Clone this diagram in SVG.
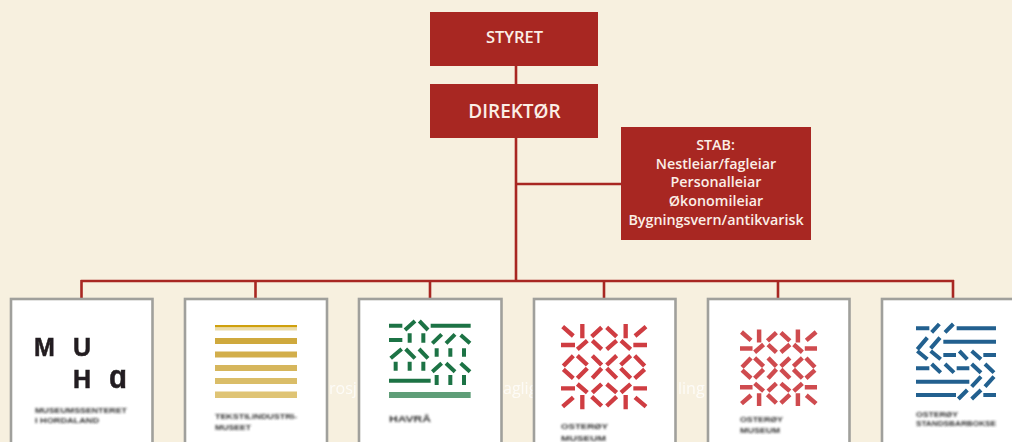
<svg xmlns="http://www.w3.org/2000/svg" width="1012" height="442" viewBox="0 0 1012 442">
<style>
.box{fill:#a82722}
.lbl{fill:#fbeee6;font-family:"Open Sans","Noto Sans",sans-serif;font-weight:600;text-anchor:middle}
.card{fill:#fff;stroke:#a0a09c;stroke-width:2.600}
.conn{fill:none;stroke:#a82722;stroke-width:2.600}
.ghost{fill:#fff;opacity:.75;font-family:"Open Sans",sans-serif;font-size:16px}
.cap{font-family:"Liberation Sans",sans-serif;font-weight:700;font-size:6.500px;fill:#333}
.big{font-family:"Liberation Sans",sans-serif;font-weight:700;font-size:25px;fill:#231f20}
.z{fill:none;stroke-linecap:butt}
</style>
<defs>
<filter id="soft" x="-10%" y="-10%" width="120%" height="120%"><feGaussianBlur stdDeviation="0.7"/></filter>
<filter id="softcap" x="-10%" y="-40%" width="120%" height="180%"><feGaussianBlur stdDeviation="0.8"/></filter>
<filter id="softz" x="-10%" y="-10%" width="120%" height="120%"><feGaussianBlur stdDeviation="2.200"/></filter>
<path id="knot" d="M668 110L700 138M727 102V145M755 140L785 112M800 112L830 140M857 102V145M885 138L918 110M663 165H705M712 178L742 152M757 152L785 178M800 178L830 152M843 152L872 178M880 165H921M670 228L700 197M712 197L742 225M670 238L700 265M712 265L742 235M757 197L785 225M830 197L800 225M757 265L785 235M830 265L800 235M914 228L884 197M872 197L842 225M914 238L884 265M872 265L842 235M663 295H705M712 282L742 308M757 308L785 282M800 282L830 308M843 308L872 282M880 295H921M668 350L700 322M727 358V315M755 320L785 348M800 348L830 320M857 358V315M885 322L918 350"/>
</defs>
<rect width="1012" height="442" fill="#f7f0df"/>
<text class="ghost" x="329" y="394">rosj</text>
<text class="ghost" x="503" y="394">aglig</text>
<text class="ghost" x="678" y="394">ling</text>
<g id="connectors">
<path class="conn" d="M516 66V84M516 138V281M516 184H621M80.700 281H954M81.500 280V298M255.500 280V298M430 280V298M604 280V298M778 280V298M953 280V298"/>
</g>
<g id="styret"><rect class="box" x="430" y="12" width="168" height="54"/><text class="lbl" x="514.500" y="43" font-size="16.500">STYRET</text></g>
<g id="direktor"><rect class="box" x="430" y="84" width="168" height="54"/><text class="lbl" x="514.500" y="118" font-size="19">DIREKTØR</text></g>
<g id="stab"><rect class="box" x="621" y="127" width="190" height="113"/>
<g class="lbl" font-size="14.300"><text x="715.500" y="150">STAB:</text><text x="716" y="169">Nestleiar/fagleiar</text><text x="716" y="187">Personalleiar</text><text x="716" y="206">Økonomileiar</text><text x="716" y="225">Bygningsvern/antikvarisk</text></g></g>
<g id="muha"><rect class="card" x="11" y="299" width="141.500" height="160"/>
<g filter="url(#soft)"><text class="big" x="34" y="356" stroke="#231f20" stroke-width=".5">M</text><text class="big" x="73" y="356" stroke="#231f20" stroke-width=".5">U</text><text class="big" x="73" y="388" stroke="#231f20" stroke-width=".5">H</text><text class="big" x="109" y="388" style="font-size:34px" textLength="18" lengthAdjust="spacingAndGlyphs" stroke="#231f20" stroke-width=".5">ɑ</text></g>
<g filter="url(#softcap)"><text class="cap" x="35" y="413" textLength="92" lengthAdjust="spacingAndGlyphs">MUSEUMSSENTERET</text><text class="cap" x="35" y="423" textLength="64" lengthAdjust="spacingAndGlyphs">I HORDALAND</text></g></g>
<g id="tekstil"><rect class="card" x="185" y="299" width="142" height="160"/>
<g filter="url(#soft)"><rect x="215" y="325" width="82" height="2.500" fill="#cfa00c"/><rect x="215" y="327.500" width="82" height="3" fill="#ecdca8"/><rect x="215" y="338" width="82" height="6" fill="#cfa93c"/><rect x="215" y="351.500" width="82" height="6" fill="#d2ae4c"/><rect x="215" y="365" width="82" height="6" fill="#d6b65c"/><rect x="215" y="378" width="82" height="6" fill="#dabd68"/><rect x="215" y="391.500" width="82" height="6.500" fill="#dfc474"/></g>
<g filter="url(#softcap)"><text class="cap" x="215" y="419" textLength="82" lengthAdjust="spacingAndGlyphs">TEKSTILINDUSTRI-</text><text class="cap" x="215" y="430" textLength="36" lengthAdjust="spacingAndGlyphs">MUSEET</text></g></g>
<g id="havra"><rect class="card" x="359" y="299" width="142.500" height="160"/>
<g filter="url(#softz)" transform="translate(340 290) scale(.33333)"><path class="z" stroke="#1f7344" stroke-width="12" d="M147 107H187M272 107H392M195 120L225 93M238 93L264 120M147 150H187M209 130V158M250 130V158M277 160L305 133M318 160L345 133M362 135L390 160M152 205L185 177M197 177L225 205M237 177L264 205M290 175V200M331 175V200M372 175V200M167 215V242M209 215V242M250 215V242M277 245L305 220M318 220L345 245M362 220L390 245M147 272H272M290 255V285M331 255V285M372 255V285"/><path class="z" stroke="#5f9e78" stroke-width="18" d="M147 315H392"/></g>
<g filter="url(#softcap)"><text class="cap" x="389" y="421.500" textLength="42" lengthAdjust="spacingAndGlyphs" style="font-size:9.500px">HAVRÅ</text></g></g>
<g id="osteroy1"><rect class="card" x="534" y="299" width="141.500" height="160"/>
<g filter="url(#softz)" transform="translate(340 290) scale(.33333)"><use href="#knot" class="z" stroke="#cf3c42" stroke-width="13"/></g>
<g filter="url(#softcap)"><text class="cap" x="561" y="429" textLength="47" lengthAdjust="spacingAndGlyphs">OSTERØY</text><text class="cap" x="561" y="441" textLength="45" lengthAdjust="spacingAndGlyphs">MUSEUM</text></g></g>
<g id="osteroy2"><rect class="card" x="708" y="299" width="141.500" height="160"/>
<g filter="url(#softz)" transform="translate(740 329) scale(.2985) translate(-663 -100)"><use href="#knot" class="z" stroke="#cf4c50" stroke-width="15"/></g>
<g filter="url(#softcap)"><text class="cap" x="740" y="422" textLength="43" lengthAdjust="spacingAndGlyphs">OSTERØY</text><text class="cap" x="740" y="433" textLength="40" lengthAdjust="spacingAndGlyphs">MUSEUM</text></g></g>
<g id="blue"><rect class="card" x="882" y="299" width="142" height="160"/>
<g filter="url(#softz)" transform="translate(680 290) scale(.33333)"><path class="z" stroke="#20608f" stroke-width="12" d="M708 115H748M755 127L778 102M795 127L820 102M830 115H948M712 178L742 143M752 175L780 143M790 155H948M712 183L742 208M752 183L782 208M790 195H828M838 183L862 208M875 183L903 208M910 195H948M708 235H748M755 222L782 248M795 222L822 248M830 235H868M875 222L903 248M915 222L942 248M708 275H868M875 290L903 260M915 290L942 260M708 315H828M835 327L862 300M875 327L903 300M910 315H948"/></g>
<g filter="url(#softcap)"><text class="cap" x="916" y="417" textLength="42" lengthAdjust="spacingAndGlyphs">OSTERØY</text><text class="cap" x="916" y="426" textLength="80" lengthAdjust="spacingAndGlyphs">STANDSBARBOKSE</text></g></g>
</svg>
